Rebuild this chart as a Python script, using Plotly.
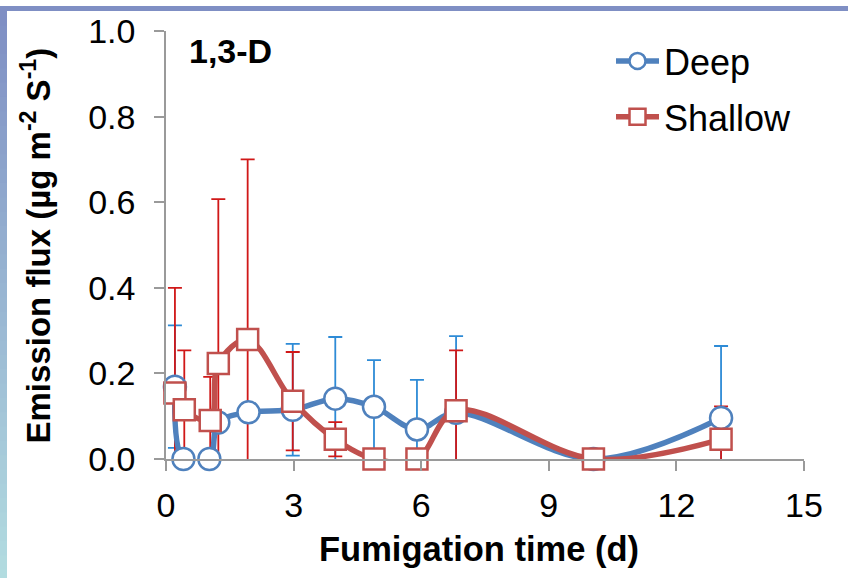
import plotly.graph_objects as go

# ---------------- data ----------------
days_deep = [0.21, 0.41, 1.02, 1.23, 1.94, 2.98, 3.98, 4.89, 5.90, 6.82, 10.05, 13.05]
flux_deep = [0.169, 0.0, 0.0, 0.085, 0.109, 0.115, 0.141, 0.122, 0.069, 0.108, 0.0, 0.096]
err_deep_plus = [0.143, 0.0, 0.0, 0.0, 0.0, 0.154, 0.144, 0.109, 0.116, 0.179, 0.0, 0.168]
err_deep_minus = [0.143, 0.0, 0.0, 0.0, 0.0, 0.107, 0.144, 0.109, 0.116, 0.179, 0.0, 0.168]

days_shallow = [0.21, 0.43, 1.04, 1.23, 1.92, 2.98, 3.98, 4.89, 5.90, 6.82, 10.05, 13.05]
flux_shallow = [0.154, 0.115, 0.090, 0.223, 0.279, 0.135, 0.046, 0.0, 0.0, 0.113, 0.0, 0.046]
err_shallow = [0.246, 0.139, 0.102, 0.384, 0.421, 0.115, 0.040, 0.0, 0.0, 0.141, 0.0, 0.077]

x_ticks = [0, 3, 6, 9, 12, 15]
y_ticks = [0.0, 0.2, 0.4, 0.6, 0.8, 1.0]

# ---------------- style ----------------
FONT = "Arial, Liberation Sans, sans-serif"
BLUE = "#4F81BD"
RED = "#C0504D"
BLUE_ERR = "#2E8BD6"
RED_ERR = "#D01818"
AXIS = "#9A9A9A"

fig = go.Figure()

# error bars first (drawn beneath the lines/markers)
fig.add_trace(go.Scatter(
    x=days_deep, y=flux_deep, mode="markers",
    marker=dict(size=1, opacity=0), showlegend=False, hoverinfo="skip",
    error_y=dict(type="data", symmetric=False, array=err_deep_plus, arrayminus=err_deep_minus,
                 color=BLUE_ERR, thickness=1.8, width=7),
))
fig.add_trace(go.Scatter(
    x=days_shallow, y=flux_shallow, mode="markers",
    marker=dict(size=1, opacity=0), showlegend=False, hoverinfo="skip",
    error_y=dict(type="data", array=err_shallow,
                 color=RED_ERR, thickness=1.8, width=7),
))

fig.add_trace(go.Scatter(
    x=days_deep, y=flux_deep, name="Deep", mode="lines+markers",
    line=dict(color=BLUE, width=5.5, shape="spline", smoothing=1.0),
    marker=dict(symbol="circle", size=22, color="white", line=dict(color=BLUE, width=2.5)),
    cliponaxis=False, legendgroup="d",
))
fig.add_trace(go.Scatter(
    x=days_shallow, y=flux_shallow, name="Shallow", mode="lines+markers",
    line=dict(color=RED, width=5.5, shape="spline", smoothing=1.0),
    marker=dict(symbol="square", size=21, color="white", line=dict(color=RED, width=2.5)),
    cliponaxis=False, legendgroup="s",
))

# background decoration (slide frame): top band + left gradient band
shapes = []
shapes.append(dict(type="rect", xref="paper", yref="paper", xsizemode="pixel", ysizemode="pixel",
                   xanchor=0, yanchor=1, x0=-170, x1=700, y0=25, y1=20,
                   fillcolor="#7F8FC4", line=dict(width=0), layer="below"))
n = 40
c0 = (127, 143, 196)
c1 = (178, 220, 224)
top_px, bot_px = 5, 578
for i in range(n):
    t = i / (n - 1)
    col = "rgb(%d,%d,%d)" % tuple(round(c0[k] + (c1[k] - c0[k]) * t) for k in range(3))
    p0 = top_px + (bot_px - top_px) * i / n
    p1 = top_px + (bot_px - top_px) * (i + 1) / n + 1
    shapes.append(dict(type="rect", xref="paper", yref="paper", xsizemode="pixel", ysizemode="pixel",
                       xanchor=0, yanchor=1, x0=-170, x1=-159, y0=25 - p0, y1=25 - p1,
                       fillcolor=col, line=dict(width=0), layer="below"))

fig.update_layout(
    width=848, height=578, autosize=False,
    margin=dict(l=166, r=44, t=25, b=119, pad=0),
    paper_bgcolor="white", plot_bgcolor="white",
    font=dict(family=FONT, size=32, color="black"),
    showlegend=True,
    legend=dict(x=0.6975, y=1.0, xanchor="left", yanchor="top",
                font=dict(family=FONT, size=36, color="black"),
                bgcolor="rgba(0,0,0,0)", tracegroupgap=6, itemwidth=43),
    xaxis=dict(range=[0, 15], tickvals=x_ticks, ticktext=[str(v) for v in x_ticks],
               showline=True, linecolor=AXIS, linewidth=1.5, ticks="outside", ticklen=10,
               tickcolor=AXIS, tickwidth=1.5, showgrid=False, zeroline=False,
               tickfont=dict(family=FONT, size=34), ticklabelstandoff=5),
    yaxis=dict(range=[0, 1.0], tickvals=y_ticks, ticktext=["%.1f" % v for v in y_ticks],
               showline=True, linecolor=AXIS, linewidth=1.5, ticks="outside", ticklen=10,
               tickcolor=AXIS, tickwidth=1.5, showgrid=False, zeroline=False,
               tickfont=dict(family=FONT, size=34), ticklabelstandoff=12),
    shapes=shapes,
    annotations=[
        dict(text="<b>Fumigation time (d)</b>", xref="paper", yref="paper", x=0.4905, y=-0.21,
             xanchor="center", yanchor="middle", showarrow=False, font=dict(family=FONT, size=34.5)),
        dict(text="<b>Emission flux (µg m<sup>-2</sup> S<sup>-1</sup>)</b>", xref="paper", yref="paper",
             x=-0.203, y=0.5, xanchor="center", yanchor="middle", textangle=-90, showarrow=False,
             font=dict(family=FONT, size=33)),
        dict(text="<b>1,3-D</b>", xref="paper", yref="paper", x=0.033, y=0.953,
             xanchor="left", yanchor="middle", showarrow=False, font=dict(family=FONT, size=34)),
    ],
)

fig.write_html("out.html")
